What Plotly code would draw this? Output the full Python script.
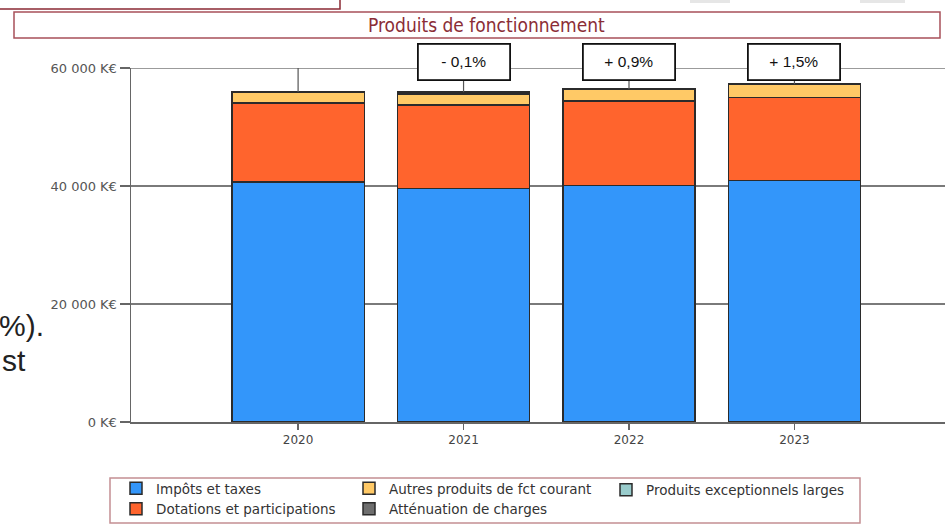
import plotly.graph_objects as go

W, H = 945, 525
ML, MR, MT, MB = 131, 0, 68, 103

years = ["2020", "2021", "2022", "2023"]
impots = [40700, 39600, 40050, 40900]
dotations = [13400, 14100, 14350, 14100]
autres = [1750, 1900, 1950, 2200]
attenuation = [100, 300, 50, 50]
exceptionnels = [0, 0, 0, 0]
pct_labels = ["", "- 0,1%", "+ 0,9%", "+ 1,5%"]
y_ticks = [0, 20000, 40000, 60000]
y_ticktext = ["0 K€", "20 000 K€", "40 000 K€", "60 000 K€"]

series_names = ["Impôts et taxes", "Dotations et participations",
                "Autres produits de fct courant", "Atténuation de charges",
                "Produits exceptionnels larges"]
series_vals = [impots, dotations, autres, attenuation, exceptionnels]
series_colors = ["#3396fa", "#ff642d", "#ffc966", "#6e6e6e", "#99cccc"]
legend_groups = ["legend", "legend", "legend2", "legend2", "legend3"]
legend_ranks = [1, 2, 1, 2, 1]

PW = W - ML - MR
PH = H - MT - MB


def px(x):
    return (x - ML) / PW


def py(y):
    return (H - MB - y) / PH


fig = go.Figure()
for name, vals, col, lg, rk in zip(series_names, series_vals, series_colors, legend_groups, legend_ranks):
    fig.add_trace(go.Bar(
        x=years, y=vals, name=name, legend=lg, legendrank=rk,
        marker=dict(color=col, line=dict(color="#2b2b2b", width=1.5)),
        hoverinfo="skip"))

totals = [sum(v[i] for v in series_vals) for i in range(len(years))]
ymax = max(y_ticks)

shapes = []
# top gridline
shapes.append(dict(type="line", xref="paper", yref="y", x0=0, x1=1, y0=ymax, y1=ymax,
                   line=dict(color="#7a7a7a", width=1.5), layer="below"))
for i, tot in enumerate(totals):
    shapes.append(dict(type="line", xref="x", yref="y", x0=i, x1=i, y0=tot, y1=ymax,
                       line=dict(color="#555555", width=1.2), layer="above"))
# title box
shapes.append(dict(type="rect", xref="paper", yref="paper", x0=px(14), x1=px(940),
                   y0=py(38), y1=py(12), line=dict(color="#a8505a", width=1.5),
                   fillcolor="rgba(0,0,0,0)"))
# top-left fragment box
shapes.append(dict(type="rect", xref="paper", yref="paper", x0=px(-5), x1=px(340),
                   y0=py(9), y1=py(-10), line=dict(color="#8b2a35", width=1.5),
                   fillcolor="rgba(0,0,0,0)"))
# top-right grey fragments
for a, b in [(690, 730), (860, 905)]:
    shapes.append(dict(type="rect", xref="paper", yref="paper", x0=px(a), x1=px(b),
                       y0=py(3), y1=py(-2), line=dict(width=0), fillcolor="#e6e6e6"))
# legend box
shapes.append(dict(type="rect", xref="paper", yref="paper", x0=px(110), x1=px(860),
                   y0=py(523), y1=py(478), line=dict(color="#c48f93", width=1.5),
                   fillcolor="rgba(0,0,0,0)"))

annotations = []
for i, lab in enumerate(pct_labels):
    if lab:
        annotations.append(dict(x=i, y=1, xref="x", yref="paper", text=lab,
                                showarrow=False, yanchor="middle", yshift=6,
                                width=90, height=34, bgcolor="white",
                                bordercolor="#111111", borderwidth=1.8, borderpad=0,
                                font=dict(family="Liberation Sans, Arial", size=15.5, color="#111")))
annotations.append(dict(x=px(486), y=py(25), xref="paper", yref="paper",
                        text="Produits de fonctionnement", showarrow=False,
                        xanchor="center", yanchor="middle",
                        font=dict(family="DejaVu Sans Condensed, Liberation Sans Narrow, Arial Narrow, sans-serif",
                                  size=19, color="#8b2d36")))
annotations.append(dict(x=px(-3), y=py(325), xref="paper", yref="paper", text="%).",
                        showarrow=False, xanchor="left", yanchor="middle",
                        font=dict(family="Liberation Sans, Arial", size=30, color="#222")))
annotations.append(dict(x=px(0), y=py(360), xref="paper", yref="paper", text="st",
                        showarrow=False, xanchor="left", yanchor="middle",
                        font=dict(family="Liberation Sans, Arial", size=30, color="#222")))

legend_common = dict(orientation="v", xanchor="left", yanchor="middle",
                     traceorder="normal", tracegroupgap=0,
                     font=dict(family="DejaVu Sans, sans-serif", size=13.5, color="#333"),
                     bgcolor="rgba(0,0,0,0)", itemclick=False, itemdoubleclick=False)

fig.update_layout(
    width=W, height=H,
    margin=dict(l=ML, r=MR, t=MT, b=MB),
    barmode="stack", bargap=0.2,
    plot_bgcolor="white", paper_bgcolor="white",
    showlegend=True,
    legend=dict(x=px(116), y=py(499), **legend_common),
    legend2=dict(x=px(349), y=py(499), **legend_common),
    legend3=dict(x=px(606), y=py(490), **legend_common),
    xaxis=dict(type="category", range=[-1.01, 3.91], showgrid=False,
               showline=True, linecolor="#666", linewidth=1.5,
               ticks="outside", ticklen=6, tickcolor="#666", tickwidth=1.5,
               tickfont=dict(family="DejaVu Sans", size=12, color="#444")),
    yaxis=dict(range=[0, ymax], tickvals=y_ticks, ticktext=y_ticktext,
               showgrid=True, gridcolor="#7a7a7a", gridwidth=1.5,
               showline=True, linecolor="#666", linewidth=1.5, zeroline=False,
               ticks="outside", ticklen=10, tickcolor="#666", tickwidth=1.5,
               tickfont=dict(family="DejaVu Sans", size=13, color="#555")),
    shapes=shapes, annotations=annotations,
)

fig.write_html("out.html", config={"displayModeBar": False, "staticPlot": True})
